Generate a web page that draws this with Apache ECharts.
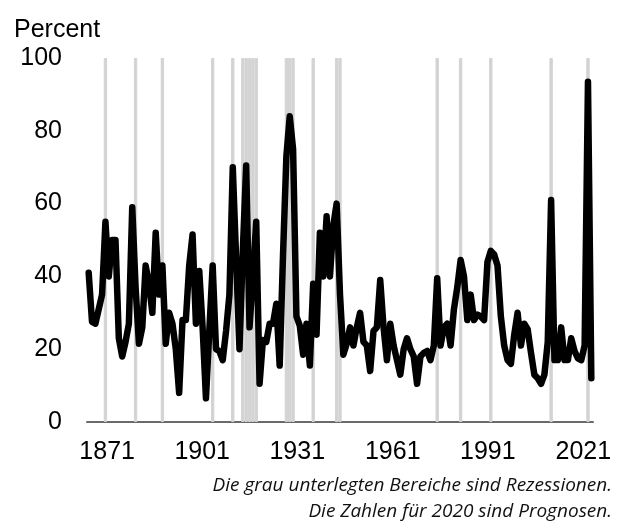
<!DOCTYPE html>
<html>
<head>
<meta charset="utf-8">
<script src="https://cdn.jsdelivr.net/npm/echarts@6/dist/echarts.min.js"></script>
<style>
  html, body { margin: 0; padding: 0; background: #fff; }
  #main { width: 620px; height: 529px; }
</style>
</head>
<body>
<div id="main"></div>
<script>
// Jahre 1871 bis 2021 (Kategorien der x-Achse)
const firstYear = 1871;
const lastYear = 2021;
const years = [];
for (let y = firstYear; y <= lastYear; y++) years.push(String(y));

// Anteil der Volkswirtschaften mit sinkendem Pro-Kopf-BIP, in Prozent
const sharePercent = [
  41, 27.5, 27, 31, 35, 55, 40, 50, 50, 23,
  18, 22, 27, 59, 37, 21.5, 26, 43, 38, 30,
  52, 35, 43, 21.5, 30, 27, 20, 8, 28, 28,
  43, 51.5, 27, 41.5, 26, 6.5, 25, 43, 20, 19.5,
  17, 25, 35, 70, 45, 20, 47, 70.5, 26, 40,
  55, 10.5, 22.5, 22, 27, 27, 32.5, 15.5, 46, 73,
  84, 75, 29, 26.5, 18.5, 27, 15.5, 38, 24, 52,
  40, 56.5, 40, 54, 60, 35, 18.5, 21.5, 26, 21,
  26, 30, 22, 21, 14, 25, 26, 39, 26, 17,
  27, 21, 17, 13, 20, 23, 20, 18, 10.5, 18,
  19, 19.5, 17, 21, 39.5, 21, 26, 27, 21, 31,
  37, 44.5, 40, 28, 35, 28, 29.5, 29, 28, 44,
  47, 46, 43, 29, 21, 17, 16, 24, 30, 21,
  27, 25.5, 19, 13, 12, 10.5, 13, 22, 61, 17,
  17, 26, 17, 17, 23, 19.5, 17.5, 17, 21, 93.5,
  12
];

// Globale Rezessionsjahre (graue Bereiche)
const recessionYears = [1876, 1885, 1893, 1908, 1914, 1917, 1918, 1919, 1920, 1921,
  1930, 1931, 1932, 1938, 1945, 1946, 1975, 1982, 1991, 2009, 2020];

// jede 30. Jahreszahl wird beschriftet
const xLabelEvery = 30;

const yMin = 0;
const yMax = 100;
const yStep = 20;

const captionLines = [
  'Die grau unterlegten Bereiche sind Rezessionen.',
  'Die Zahlen für 2020 sind Prognosen.'
];

const recessionBars = years.map(y => recessionYears.includes(Number(y)) ? yMax : '-');

const labelFont = 'Liberation Sans, Arial, sans-serif';
const axisGray = '#6a6a6a';

// Im Original stehen die Jahreszahlen etwas enger als die Datenpunkte:
// kleine Verschiebung pro Beschriftung (in px), über Innenabstand gelöst
function labelShift(year) {
  const k = (Number(year) - firstYear) / (lastYear - firstYear);
  return 18.3 - 26.5 * k;
}

const chart = echarts.init(document.getElementById('main'));

const option = {
  backgroundColor: '#fff',
  animation: false,
  title: {
    text: 'Percent',
    left: 9,
    top: 13,
    textStyle: {
      fontFamily: labelFont,
      fontSize: 25,
      fontWeight: 'normal',
      color: '#000'
    }
  },
  grid: { left: 87, right: 27, top: 58, bottom: 107 },
  xAxis: {
    type: 'category',
    data: years,
    boundaryGap: true,
    axisLine: { show: true, lineStyle: { color: axisGray, width: 2 } },
    axisTick: { show: false },
    splitLine: { show: false },
    axisLabel: {
      interval: xLabelEvery - 1,
      margin: 18,
      color: '#000',
      fontFamily: labelFont,
      fontSize: 25,
      formatter: function (v) {
        const s = labelShift(v);
        return s >= 0 ? '{r|' + v + '}' : '{l|' + v + '}';
      },
      rich: {
        r: { fontFamily: labelFont, fontSize: 25, color: '#000', padding: [0, 0, 0, 0] },
        l: { fontFamily: labelFont, fontSize: 25, color: '#000', padding: [0, 0, 0, 0] }
      }
    }
  },
  yAxis: {
    type: 'value',
    min: yMin,
    max: yMax,
    interval: yStep,
    axisLine: { show: false },
    axisTick: { show: false },
    splitLine: { show: false },
    axisLabel: {
      margin: 25,
      color: '#000',
      fontFamily: labelFont,
      fontSize: 25
    }
  },
  series: [
    {
      name: 'Rezession',
      type: 'bar',
      data: recessionBars,
      barWidth: '100%',
      barCategoryGap: '0%',
      silent: true,
      z: 1,
      itemStyle: { color: '#d3d3d3', borderColor: '#d3d3d3', borderWidth: 1 }
    },
    {
      name: 'Anteil',
      type: 'line',
      data: sharePercent,
      symbol: 'none',
      z: 3,
      lineStyle: { color: '#000', width: 6.5, join: 'round', cap: 'round' }
    }
  ],
  graphic: captionLines.map((line, k) => ({
    type: 'text',
    x: 612,
    y: 486 + k * 26,
    style: {
      text: line,
      align: 'right',
      verticalAlign: 'middle',
      fontFamily: 'Open Sans, sans-serif',
      fontStyle: 'italic',
      fontSize: 19,
      fill: '#111'
    }
  }))
};

// Verschiebung der Jahreszahlen: Innenabstand links bzw. rechts
option.xAxis.axisLabel.formatter = function (v) {
  const s = labelShift(v);
  const pad = Math.round(Math.abs(s) * 2);
  const key = (s >= 0 ? 'r' : 'l') + pad;
  if (!option.xAxis.axisLabel.rich[key]) {
    option.xAxis.axisLabel.rich[key] = {
      fontFamily: labelFont, fontSize: 25, color: '#000',
      padding: s >= 0 ? [0, 0, 0, pad] : [0, pad, 0, 0]
    };
  }
  return '{' + key + '|' + v + '}';
};
// rich-Stile vorab anlegen, damit sie beim ersten Zeichnen bekannt sind
years.forEach((y, i) => { if (i % xLabelEvery === 0) option.xAxis.axisLabel.formatter(y); });

chart.setOption(option);
</script>
</body>
</html>
